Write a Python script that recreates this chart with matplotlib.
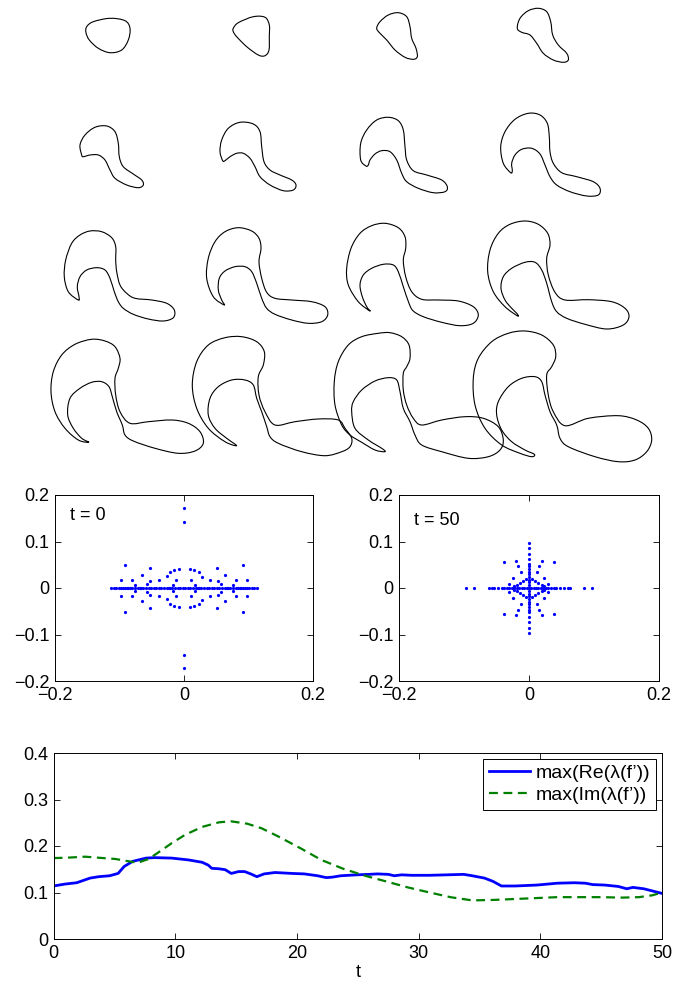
import numpy as np
import matplotlib
matplotlib.use("Agg")
import matplotlib.pyplot as plt
from matplotlib.path import Path
from matplotlib.patches import PathPatch

plt.rcParams['font.family'] = ['Liberation Sans', 'DejaVu Sans']
plt.rcParams['axes.unicode_minus'] = True

# ---- traced outlines of the evolving interface (reference pixel units) ----
r1c1 = [(86.7, 26.7), (93.3, 21.7), (110, 18.3), (125, 20.7), (130, 28.3), (128.3, 40), (121.7, 50),
        (110, 52.7), (98.3, 48.3), (89.3, 40), (86, 32.7)]
r1c2 = [(233.3, 28.3), (238.3, 22.7), (253.3, 16.7), (265, 17.3), (269.3, 25), (269.3, 36.7), (269, 50),
        (265, 55.7), (258.3, 55), (246.7, 46.7), (236.7, 36.7), (233.3, 31.7)]
r1c3 = [(376.7, 28.3), (380, 21.7), (388.3, 15), (398.3, 12.7), (406.7, 16.7), (410, 26.7), (411.7, 38.3),
        (416, 48.3), (417.3, 56.7), (413.3, 59.3), (405, 57.3), (395, 50), (386.7, 40), (380, 33.3)]
r1c4 = [(517.3, 28.3), (520, 18.3), (528.3, 10.7), (538.3, 8.3), (546.7, 11.7), (550.7, 21.7), (552.7, 35),
        (558.3, 45), (566.7, 53.3), (568.3, 60), (563.3, 62.3), (553.3, 60), (543.3, 53.3), (536.7, 43.3),
        (530, 35), (521.7, 32.3)]
r2c1 = [(81.7, 155), (80, 145), (85, 135), (95, 127.3), (106.7, 126), (115, 131.7), (118.3, 143.3),
        (119.3, 156.7), (123.3, 166.7), (133.3, 174), (141.7, 180), (143.3, 185), (138.3, 187.7),
        (126.7, 185), (115, 178.3), (110, 170), (105, 160), (98.3, 155), (90, 155), (83.3, 156.7)]
r2c2 = [(222.7, 160.7), (220, 151.7), (221.7, 140), (228.3, 128.3), (240, 122.3), (253.3, 124), (260, 131.7),
        (261.7, 146.7), (264, 161.7), (270, 170), (280, 175), (291.7, 180), (296, 185), (293.3, 190),
        (283.3, 190.7), (270, 185), (260, 176.7), (255, 166.7), (250, 158.3), (243.3, 153.3), (236.7, 153.3),
        (230, 156.7), (225, 160.7)]
r2c3 = [(366, 166), (360.7, 160), (360.7, 143.3), (366.7, 130), (376.7, 120), (388.3, 117.3), (398.3, 120.7),
        (403.3, 130), (405, 146.7), (406.7, 160), (413.3, 170.7), (426.7, 175), (441.7, 180), (447.3, 186.7),
        (445, 191.7), (433.3, 192.7), (418.3, 188.3), (406.7, 181.7), (401.7, 173.3), (396.7, 160),
        (390, 151.7), (381.7, 150.7), (375, 154), (370, 160), (368.3, 165)]
r2c4 = [(510.7, 172.7), (503.3, 163.3), (500.7, 146.7), (505, 131.7), (515, 119.3), (528.3, 113.3), (540, 115),
        (547.3, 123.3), (549.3, 136.7), (550, 151.7), (553.3, 163.3), (561.7, 172.7), (576.7, 176.7),
        (593.3, 181.7), (600, 188.3), (598.3, 195), (586.7, 196), (570, 191.7), (556.7, 185), (550, 176.7),
        (545, 165), (540, 154), (531.7, 148.3), (521.7, 149.3), (515, 155), (511.7, 163.3), (512.3, 170.7)]
r3c1 = [(78.3, 300), (68.3, 291.7), (64.3, 276.7), (65.7, 260), (71.7, 243.3), (80, 235), (90, 231),
        (101.7, 231.7), (111.7, 237.7), (115.7, 246.7), (115.7, 260), (116.7, 271.7), (120, 285),
        (126.7, 293.3), (135, 298.3), (151.7, 300), (166.7, 303.3), (174.3, 310), (173.3, 317.7), (163.3, 321),
        (148.3, 319), (133.3, 314.3), (123.3, 308.3), (118.3, 301.7), (114.3, 291.7), (110, 278.3), (105, 270),
        (96.7, 267.7), (86.7, 270), (80, 276.7), (77.3, 286.7), (79, 296.7)]
r3c2 = [(224.3, 305), (213.3, 296.7), (206.7, 278.3), (208.3, 258.3), (215, 241.7), (225, 231.7),
        (238.3, 227.7), (251.7, 231), (259, 238.3), (261, 248.3), (259, 261.7), (261.7, 278.3), (266.7, 292.3),
        (275, 298.3), (291.7, 300), (311.7, 301.7), (325, 306.7), (327.7, 315), (321.7, 321.7), (308.3, 323.3),
        (291.7, 320), (275, 314.3), (266.7, 308.3), (261.7, 298.3), (256.7, 283.3), (251.7, 271.7),
        (245, 266.7), (235, 266.7), (225, 271), (219.3, 278.3), (218.3, 290), (221.7, 300)]
r3c3 = [(370, 311), (358.3, 301.7), (348.3, 285), (346.7, 268.3), (351, 248.3), (360, 233.3), (371.7, 225.7),
        (385, 223.3), (398.3, 227.7), (405, 236.7), (405.7, 248.3), (403.3, 260), (405.7, 276.7),
        (411.7, 291.7), (421.7, 299.3), (438.3, 300), (458.3, 301), (473.3, 306.7), (478.3, 315),
        (473.3, 323.3), (460, 325.7), (441.7, 322.3), (423.3, 316.7), (413.3, 311), (409, 303.3),
        (403.3, 286.7), (398.3, 271.7), (393.3, 265), (383.3, 264.3), (371.7, 268.3), (363.3, 275), (360, 285),
        (362.3, 296.7), (366.7, 306.7)]
r3c4 = [(517.7, 316), (505, 306.7), (493.3, 291.7), (487.7, 271.7), (490, 250), (498.3, 233.3), (510, 224.3),
        (525, 221), (538.3, 224.3), (547.7, 233.3), (550, 245), (546.7, 258.3), (548.3, 275), (555, 292.3),
        (565, 300), (588.3, 299.7), (611.7, 301.7), (625, 308.3), (629, 316.7), (623.3, 325), (606.7, 329),
        (585, 324.3), (566.7, 318.3), (556.7, 311.7), (551.7, 301.7), (546.7, 283.3), (541.7, 270),
        (535, 262.3), (525, 262.3), (511.7, 268.3), (503.3, 276.7), (501, 288.3), (505, 300), (511.7, 308.3),
        (516.7, 313.3)]
r4c1 = [(89, 442.3), (78.3, 440), (65, 428.3), (55, 411.7), (51, 391.7), (53.3, 371.7), (61.7, 355),
        (75, 344.3), (91.7, 339.3), (105, 341), (115, 346.7), (120, 358.3), (118.3, 368.3), (115, 378.3),
        (115.7, 395), (120, 411.7), (130, 423.3), (148.3, 421.7), (171.7, 420), (188.3, 423.3), (200, 431.7),
        (203.3, 443.3), (195, 451), (178.3, 453.3), (155, 448.3), (133.3, 441), (125, 435), (122.3, 425),
        (116.7, 411.7), (112.3, 396.7), (109, 386.7), (101.7, 381.7), (91.7, 382.3), (80, 388.3), (70, 398.3),
        (67.7, 415), (73.3, 428.3), (81.7, 438.3)]
r4c2 = [(236.7, 445.7), (225, 441.7), (208.3, 428.3), (196.7, 408.3), (192.3, 385), (196.7, 361.7),
        (208.3, 345), (225, 337.7), (241.7, 336.7), (256.7, 341.7), (264.3, 351.7), (263.3, 365),
        (258.3, 376.7), (259, 395), (265, 411.7), (275, 425), (295, 421.7), (318.3, 419), (338.3, 420),
        (345, 428.3), (351.7, 438.3), (350, 446.7), (341.7, 451.7), (325, 455.7), (301.7, 451.7),
        (278.3, 443.3), (270, 436.7), (266.7, 426.7), (261.7, 411.7), (256.7, 398.3), (253.3, 385), (245, 380),
        (231.7, 380), (218.3, 386.7), (210, 398.3), (208.3, 415), (215, 428.3), (226.7, 438.3)]
r4c3 = [(378.3, 333.3), (361.7, 336.7), (348.3, 345), (338.3, 361.7), (334.3, 381.7), (335, 405),
        (341.7, 425), (350, 435), (361.7, 442.3), (375, 450), (385, 451.7), (381.7, 448.3), (368.3, 440),
        (355, 428.3), (351.7, 411.7), (353.3, 401.7), (361.7, 390), (375, 381), (388.3, 377.7), (396.7, 380),
        (400, 391.7), (403.3, 408.3), (410, 421.7), (415, 435), (421.7, 445), (441.7, 451.7), (468.3, 458.3),
        (488.3, 456.7), (500, 450), (503.3, 440), (498.3, 426.7), (483.3, 418.3), (465, 416.7), (441.7, 420),
        (421.7, 425), (413.3, 418.3), (406.7, 405), (403.3, 390), (403.3, 373.3), (406.7, 366.7),
        (410, 358.3), (409, 345), (401.7, 336.7), (390, 332.7)]
r4c4 = [(525, 331), (541.7, 335), (553.3, 345), (555.7, 356.7), (551.7, 366.7), (546.7, 375), (548.3, 395),
        (553.3, 411.7), (565, 425.7), (588.3, 418.3), (618.3, 415.7), (636.7, 420), (648.3, 428.3),
        (651.7, 440), (646.7, 451.7), (635, 460), (618.3, 461.7), (595, 456.7), (568.3, 446.7), (560, 438.3),
        (556.7, 425), (550, 411.7), (545, 395), (541.7, 381.7), (535, 376.7), (521.7, 378.3), (508.3, 386.7),
        (498.3, 401.7), (496.7, 415), (501.7, 430), (511.7, 441.7), (525, 450), (534.3, 454.3),
        (531.7, 456.7), (520, 453.3), (501.7, 445), (485, 428.3), (475, 405), (473.3, 378.3), (478.3, 358.3),
        (491.7, 341.7), (508.3, 333.3)]
outlines = [r1c1, r1c2, r1c3, r1c4, r2c1, r2c2, r2c3, r2c4,
            r3c1, r3c2, r3c3, r3c4, r4c1, r4c2, r4c3, r4c4]

# ---- eigenvalues of f' at t = 0 ----
eig0_re = [-0.113, -0.109, -0.105, -0.101, -0.098, -0.095, -0.092, -0.089, -0.087, -0.084, -0.080, -0.076,
           -0.072, -0.068, -0.066, -0.063, -0.059, -0.055, -0.051, -0.047, -0.043, -0.039, -0.035, -0.031,
           -0.027, -0.024, -0.021, -0.018, -0.014, -0.010, -0.006, -0.002, 0.002, 0.006, 0.010, 0.014, 0.018,
           0.021, 0.024, 0.027, 0.031, 0.035, 0.039, 0.043, 0.047, 0.051, 0.055, 0.059, 0.063, 0.066, 0.068,
           0.072, 0.076, 0.080, 0.084, 0.087, 0.089, 0.092, 0.095, 0.098, 0.101, 0.105, 0.109, 0.113,
           -0.092, 0.091, -0.052, 0.051, -0.097, 0.098, -0.081, 0.080, -0.065, 0.064, -0.058, 0.057,
           -0.053, 0.053, -0.039, 0.040, -0.076, 0.076, -0.027, 0.028, -0.022, 0.023, -0.016, 0.016,
           -0.008, 0.009, -0.012, 0.011, -0.017, 0.017,
           -0.092, 0.091, -0.052, 0.051, -0.097, 0.098, -0.081, 0.080, -0.065, 0.064, -0.058, 0.057,
           -0.053, 0.053, -0.039, 0.040, -0.076, 0.076, -0.027, 0.028, -0.022, 0.023, -0.016, 0.016,
           -0.008, 0.009, -0.012, 0.011, -0.017, 0.017,
           0.0, 0.0, 0.0, 0.0]
eig0_im = [0.0] * 64 + [
           0.050, 0.050, 0.043, 0.043, 0.017, 0.017, 0.017, 0.017, 0.027, 0.027, 0.009, 0.009,
           0.014, 0.014, 0.017, 0.017, 0.007, 0.007, 0.025, 0.024, 0.035, 0.034, 0.039, 0.039,
           0.040, 0.040, 0.017, 0.017, 0.007, 0.007,
           -0.051, -0.051, -0.043, -0.043, -0.017, -0.017, -0.018, -0.018, -0.028, -0.028, -0.009, -0.009,
           -0.014, -0.014, -0.017, -0.017, -0.007, -0.007, -0.024, -0.025, -0.034, -0.035, -0.039, -0.039,
           -0.040, -0.040, -0.017, -0.017, -0.007, -0.007,
           0.171, 0.143, -0.145, -0.173]

# ---- eigenvalues of f' at t = 50 ----
eig50_re = [-0.097, -0.084, 0.084, 0.097,
            -0.0616, -0.0575, -0.0534, -0.0482, -0.042, -0.038, -0.0344, -0.0308, -0.0267, -0.0226, -0.019,
            -0.0154, -0.0113, -0.0077, -0.0036, 0.0, 0.0036, 0.0072, 0.0108, 0.0144, 0.0185, 0.022, 0.0257,
            0.0298, 0.0339, 0.038, 0.042, 0.048, 0.054, 0.0595, 0.063] + [0.0] * 26 + [
            -0.0385, -0.0205, 0.0205, 0.0385, -0.0164, 0.0159, -0.0123, 0.0128, -0.0241, 0.0236, -0.0303,
            0.0298, -0.0087, -0.0041, 0.0041, 0.0092, -0.019, 0.0195, -0.0139, 0.0144, -0.0226, 0.0236,
            -0.0385, -0.0205, 0.0205, 0.0385, -0.0164, 0.0159, -0.0123, 0.0128, -0.0241, 0.0236, -0.0303,
            0.0298, -0.0087, -0.0041, 0.0041, 0.0092, -0.019, 0.0195, -0.0139, 0.0144, -0.0226, 0.0236]
eig50_im = [0.0] * 35 + [
            0.097, 0.086, 0.074, 0.0625, 0.052, 0.0467, 0.041, 0.035, 0.0294, 0.0237, 0.018, 0.0122, 0.0072,
            -0.0072, -0.0122, -0.018, -0.0237, -0.0294, -0.035, -0.041, -0.0467, -0.052, -0.0625, -0.074,
            -0.086, -0.097,
            0.0553, 0.0574, 0.0574, 0.0553, 0.0481, 0.0481, 0.0345, 0.0345, 0.0215, 0.0215, 0.0093, 0.0093,
            0.0144, 0.0194, 0.0194, 0.0144, 0.0072, 0.0072, 0.0108, 0.0108, 0.0036, 0.0036,
            -0.0553, -0.0574, -0.0574, -0.0553, -0.0481, -0.0481, -0.0345, -0.0345, -0.0215, -0.0215,
            -0.0093, -0.0093, -0.0144, -0.0194, -0.0194, -0.0144, -0.0072, -0.0072, -0.0108, -0.0108,
            -0.0036, -0.0036]

# ---- max real / imaginary part over time ----
t_re = [0, 0.9, 1.9, 3.0, 3.7, 4.6, 5.3, 5.8, 6.5, 7.6, 8.3, 9.7, 11.1, 12.2, 12.7, 13.0, 13.6, 14.1, 14.6,
        15.2, 15.7, 16.2, 16.7, 17.3, 18.2, 19.6, 20.6, 21.7, 22.4, 22.9, 23.6, 24.9, 25.9, 26.6, 27.5, 28.0,
        28.6, 29.4, 30.9, 32.3, 33.7, 34.4, 35.4, 36.1, 36.8, 37.9, 39.7, 41.4, 42.8, 43.7, 44.3, 45.3, 46.4,
        47.1, 47.6, 48.5, 50]
max_re = [0.114, 0.118, 0.121, 0.131, 0.134, 0.136, 0.141, 0.156, 0.167, 0.174, 0.175, 0.174, 0.170, 0.165,
          0.159, 0.152, 0.151, 0.149, 0.141, 0.145, 0.145, 0.140, 0.134, 0.140, 0.143, 0.141, 0.140, 0.136,
          0.132, 0.133, 0.136, 0.138, 0.139, 0.140, 0.139, 0.136, 0.138, 0.137, 0.137, 0.138, 0.139, 0.136,
          0.131, 0.124, 0.114, 0.114, 0.116, 0.120, 0.121, 0.120, 0.117, 0.116, 0.113, 0.108, 0.111, 0.108,
          0.098]
t_im = [0, 1.2, 2.6, 4.1, 5.1, 6.2, 6.9, 7.8, 8.6, 9.7, 10.8, 12.2, 13.6, 14.6, 15.9, 17.1, 18.5, 20.3, 22.0,
        23.8, 25.6, 27.3, 29.1, 30.9, 32.6, 34.4, 36.1, 37.9, 41.4, 45.0, 46.7, 48.1, 49.2, 50]
max_im = [0.174, 0.175, 0.177, 0.174, 0.172, 0.167, 0.164, 0.172, 0.186, 0.206, 0.224, 0.241, 0.251, 0.253,
          0.248, 0.238, 0.220, 0.195, 0.170, 0.151, 0.136, 0.124, 0.111, 0.100, 0.090, 0.083, 0.084, 0.086,
          0.090, 0.090, 0.089, 0.090, 0.094, 0.100]


def closed_curve(pts):
    # smooth closed path through the traced points (Catmull-Rom as cubic Bezier)
    p = np.asarray(pts, dtype=float)
    n = len(p)
    verts = [p[0]]
    codes = [Path.MOVETO]
    for i in range(n):
        p0, p1, p2, p3 = p[i - 1], p[i], p[(i + 1) % n], p[(i + 2) % n]
        verts += [p1 + (p2 - p0) / 6.0, p2 - (p3 - p1) / 6.0, p2]
        codes += [Path.CURVE4] * 3
    return Path(verts, codes)


W, H = 673, 984
fig = plt.figure(figsize=(W / 100, H / 100), dpi=100)

ax0 = fig.add_axes([0, 1 - 470 / H, 1, 470 / H])
ax0.set_xlim(0, W)
ax0.set_ylim(470, 0)
ax0.axis('off')
for pts in outlines:
    ax0.add_patch(PathPatch(closed_curve(pts), fill=False, ec='black', lw=0.8))

FS = 13


def style(ax):
    ax.tick_params(direction='in', top=True, right=True, length=4, width=0.6, labelsize=FS, pad=4)
    for s in ax.spines.values():
        s.set_linewidth(0.7)


ax1 = fig.add_axes([55 / W, 1 - 681 / H, 258 / W, 186 / H])
ax2 = fig.add_axes([399 / W, 1 - 681 / H, 260 / W, 186 / H])
for ax, re, im, lab, ly in [(ax1, eig0_re, eig0_im, 't = 0', 0.156), (ax2, eig50_re, eig50_im, 't = 50', 0.146)]:
    ax.plot(re, im, 'o', color='blue', ms=2.3, mew=0)
    ax.set_xlim(-0.2, 0.2)
    ax.set_ylim(-0.2, 0.2)
    ax.set_xticks([-0.2, 0, 0.2])
    ax.set_xticklabels(['\u22120.2', '0', '0.2'])
    ax.set_yticks([-0.2, -0.1, 0, 0.1, 0.2])
    ax.set_yticklabels(['\u22120.2', '\u22120.1', '0', '0.1', '0.2'])
    ax.text(-0.177, ly, lab, fontsize=FS, va='center', ha='left')
    style(ax)

ax3 = fig.add_axes([53.6 / W, 1 - 939 / H, 608.5 / W, 186 / H])
ax3.plot(t_re, max_re, '-', color='blue', lw=2.0, label='max(Re(\u03bb(f\u2019))')
ax3.plot(t_im, max_im, '--', color=(0, 0.5, 0), lw=1.6, dashes=(4, 2.5), label='max(Im(\u03bb(f\u2019))')
ax3.set_xlim(0, 50)
ax3.set_ylim(0, 0.4)
ax3.set_xticks([0, 10, 20, 30, 40, 50])
ax3.set_yticks([0, 0.1, 0.2, 0.3, 0.4])
ax3.set_yticklabels(['0', '0.1', '0.2', '0.3', '0.4'])
ax3.set_xlabel('t', fontsize=FS, labelpad=2)
style(ax3)
leg = ax3.legend(loc='upper right', fontsize=14, handlelength=2.1, handletextpad=0.3,
                 borderaxespad=0.3, labelspacing=0.2, borderpad=0.3, fancybox=False, framealpha=1)
leg.get_frame().set_edgecolor('black')
leg.get_frame().set_linewidth(0.7)

fig.savefig('out.png', dpi=100)
